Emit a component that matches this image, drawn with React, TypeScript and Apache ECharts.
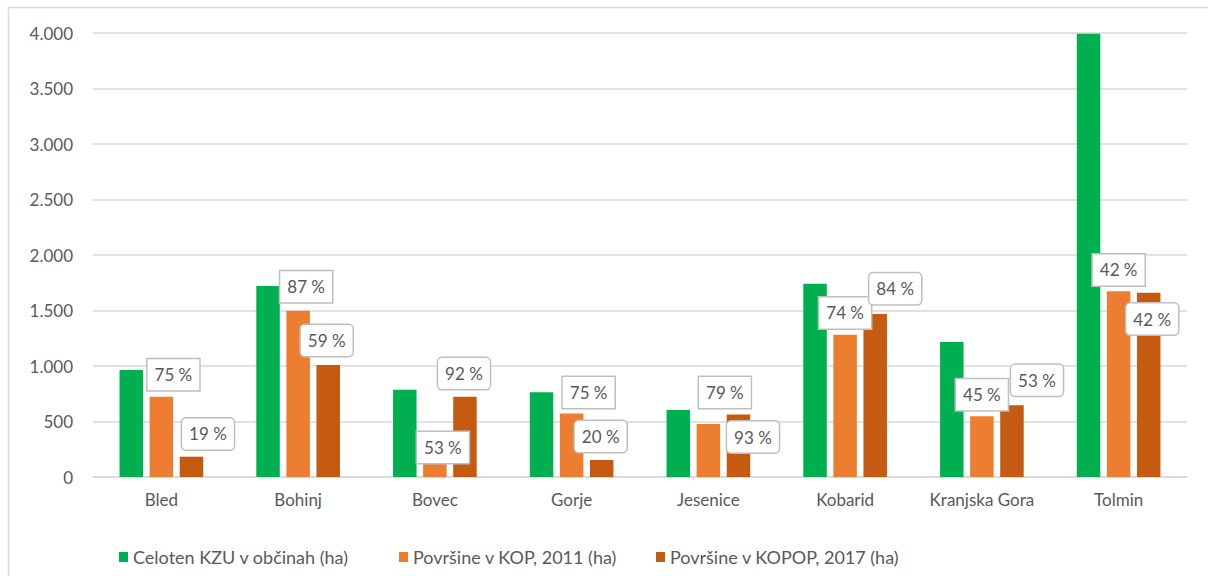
import React, { useEffect, useRef } from "react";
import * as echarts from "echarts";

const categories = ["Bled", "Bohinj", "Bovec", "Gorje", "Jesenice", "Kobarid", "Kranjska Gora", "Tolmin"];
const seriesNames = ["Celoten KZU v občinah (ha)", "Površine v KOP, 2011 (ha)", "Površine v KOPOP, 2017 (ha)"];
const totalKZU = [964, 1720, 787, 763, 604, 1741, 1216, 3994];
const kop2011 = [723, 1498, 414, 572, 477, 1282, 547, 1673];
const kopop2017 = [183, 1009, 723, 153, 562, 1468, 646, 1660];
const kop2011Pct = [75, 87, 53, 75, 79, 74, 45, 42];
const kopop2017Pct = [19, 59, 92, 20, 93, 84, 53, 42];
const yTicks = [0, 500, 1000, 1500, 2000, 2500, 3000, 3500, 4000];

// label placement (shift of label centre from bar top centre, px)
const kopLabelShift = [[12, -22], [8, -24], [8, 16.5], [17, -21], [16.5, -31.5], [0, -21.7], [0, -21.6], [0, -21.3]];
const kopopLabelShift = [[16.5, -22.7], [-1.5, -24.5], [-1, -23.2], [-1, -23.5], [14.5, 22.4], [20, -25.3], [25, -25], [3.5, 26.3]];
const legendLeft = [114, 394, 651];

const COLORS = ["#00B050", "#ED7D31", "#C55A11"];
const TEXT = "#595959";
const FONT = "Lato, 'Open Sans', sans-serif";

function fmt(v: number) {
  return String(v).replace(/\B(?=(\d{3})+(?!\d))/g, ".");
}

function labelled(values: number[], pcts: number[], shifts: number[][], radius: number) {
  return values.map((v, i) => ({
    value: v,
    label: {
      show: true,
      position: "top",
      distance: 0,
      offset: [shifts[i][0], shifts[i][1] + 15.5],
      formatter: `${pcts[i]} %`,
      color: TEXT,
      fontFamily: FONT,
      fontSize: 17,
      lineHeight: 17,
      padding: [7, 7, 7, 7],
      backgroundColor: "#ffffff",
      borderColor: "#bfbfbf",
      borderWidth: 1.5,
      borderRadius: radius,
    },
  }));
}

export default function App() {
  const ref = useRef<HTMLDivElement>(null);
  useEffect(() => {
    document.body.style.margin = "0";
    const chart = echarts.init(ref.current!, null, { renderer: "svg" });
    chart.setOption({
      animation: false,
      backgroundColor: "#ffffff",
      textStyle: { fontFamily: FONT },
      graphic: [
        {
          type: "rect",
          silent: true,
          shape: { x: 8.5, y: 7.5, width: 1260, height: 660 },
          style: { fill: "none", stroke: "#d9d9d9", lineWidth: 1.5 },
        },
      ],
      grid: { left: 93, right: 21, top: 33, bottom: 99, containLabel: false },
      legend: seriesNames.map((n, i) => ({
        data: [n],
        left: legendLeft[i],
        top: 543,
        icon: "rect",
        itemWidth: 9,
        itemHeight: 10,
        textStyle: { color: TEXT, fontSize: 18, fontFamily: FONT },
      })),
      xAxis: {
        type: "category",
        data: categories,
        axisTick: { show: false },
        axisLine: { lineStyle: { color: "#d9d9d9", width: 1.5 } },
        axisLabel: { color: TEXT, fontSize: 17, margin: 14, fontFamily: FONT },
      },
      yAxis: {
        type: "value",
        min: yTicks[0],
        max: yTicks[yTicks.length - 1],
        interval: 500,
        axisLine: { show: false },
        axisTick: { show: false },
        axisLabel: { color: TEXT, fontSize: 17, margin: 20, fontFamily: FONT, formatter: (v: number) => fmt(v) },
        splitLine: { lineStyle: { color: "#d9d9d9", width: 1.5 } },
      },
      series: [
        {
          name: seriesNames[0],
          type: "bar",
          data: totalKZU,
          barWidth: 23.5,
          barGap: "28%",
          itemStyle: { color: COLORS[0] },
        },
        {
          name: seriesNames[1],
          type: "bar",
          data: labelled(kop2011, kop2011Pct, kopLabelShift, 0),
          barWidth: 23.5,
          barGap: "28%",
          itemStyle: { color: COLORS[1] },
        },
        {
          name: seriesNames[2],
          type: "bar",
          data: labelled(kopop2017, kopop2017Pct, kopopLabelShift, 4),
          barWidth: 23.5,
          barGap: "28%",
          itemStyle: { color: COLORS[2] },
        },
      ],
    });
    return () => chart.dispose();
  }, []);
  return <div ref={ref} style={{ width: 1208, height: 576 }} />;
}
